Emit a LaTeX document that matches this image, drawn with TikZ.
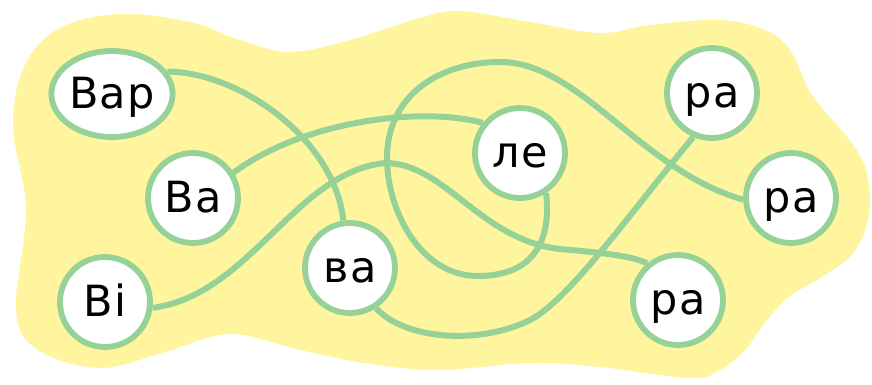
\documentclass[tikz,border=0pt]{standalone}
\usepackage{fontspec}
\setmainfont{DejaVu Sans}[LetterSpace=3]
\usetikzlibrary{shapes.geometric}
\definecolor{blobyellow}{RGB}{254,245,158}
\definecolor{ringgreen}{RGB}{150,210,152}
\pgfdeclarelayer{blob}
\pgfdeclarelayer{links}
\pgfsetlayers{blob,links,main}
\begin{document}
\begin{tikzpicture}[x=1pt,y=-1pt,
  syl/.style={circle, draw=ringgreen, line width=5.8pt, fill=white,
    minimum size=90pt, inner sep=0pt, text height=29pt, text depth=0pt,
    font=\fontsize{43}{48}\selectfont},
  link/.style={draw=ringgreen, line width=6pt}]
\useasboundingbox (0,0) rectangle (872,384);
\begin{pgfonlayer}{blob}
\fill[blobyellow] plot[smooth cycle, tension=0.6] coordinates {
  (13,125) (26,210) (16,310) (38,350) (100,368) (165,352) (230,334)
  (300,350) (370,364) (440,370) (530,363) (600,367) (690,378) (720,370)
  (745,350) (767,320) (790,296) (822,277) (853,253) (869,215) (866,170)
  (848,138) (812,95) (790,50) (765,30) (720,20) (650,25) (600,33)
  (530,22) (460,11) (420,18) (350,40) (290,52) (240,40) (190,22)
  (120,14) (60,28) (25,65)};
\end{pgfonlayer}
\node[syl, ellipse, minimum width=117pt, minimum height=86pt] (var) at (112,94) {Вар};
\node[syl] (ba) at (193,198) {Ва};
\node[syl] (vi) at (105,302) {Ві};
\node[syl] (va) at (350,268) {ва};
\node[syl] (le) at (520,153) {ле};
\node[syl] (rt) at (712,93) {ра};
\node[syl] (rr) at (791,198) {ра};
\node[syl] (rb) at (678,300) {ра};
\begin{pgfonlayer}{links}
\draw[link] (var.22) .. controls (240,72) and (335,140) .. (va.98);
\draw[link] (ba.32) .. controls (298,124) and (415,105) .. (le.141);
\draw[link] (vi.-7) .. controls (250,295) and (295,172) .. (385,163)
  .. controls (445,163) and (480,240) .. (560,249)
  .. controls (605,253) and (632,256) .. (rb.130);
\draw[link] (le.-57) .. controls (552,245) and (530,276) .. (478,276)
  .. controls (420,276) and (387,210) .. (387,158)
  .. controls (387,95) and (440,62) .. (500,62)
  .. controls (580,62) and (640,170) .. (rr.182);
\draw[link] (va.-57) .. controls (405,340) and (480,345) .. (530,320)
  .. controls (570,300) and (640,200) .. (rt.247);
\end{pgfonlayer}
\end{tikzpicture}
\end{document}
